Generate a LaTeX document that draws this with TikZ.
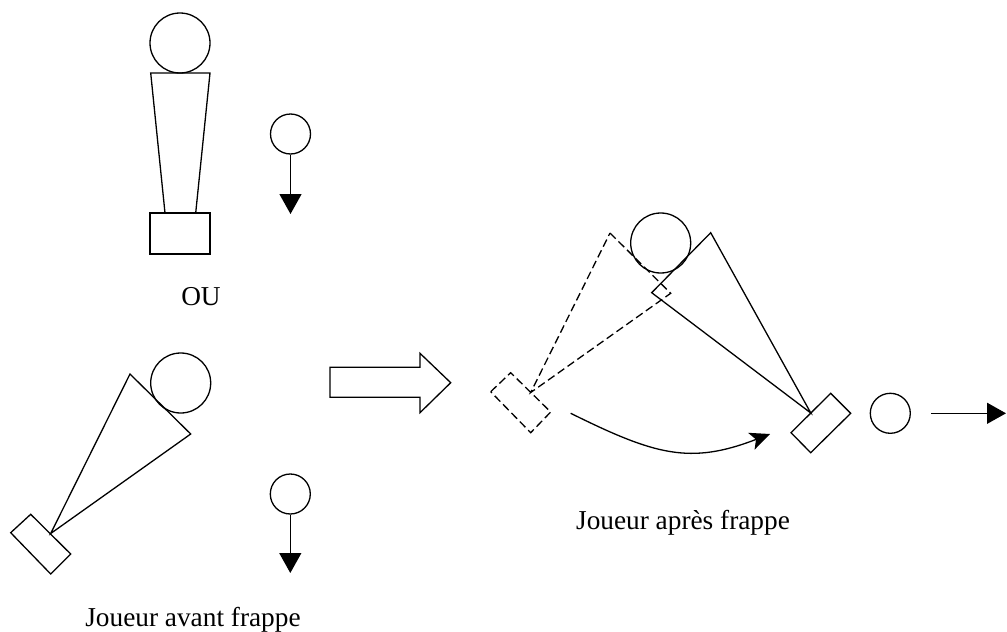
\documentclass[tikz,border=0pt]{standalone}
\usepackage{fontspec}
\setmainfont{Liberation Serif}
\usetikzlibrary{arrows.meta}
\begin{document}
\begin{tikzpicture}[x=1pt,y=-1pt,line width=1.3pt,line join=miter,
  head/.style={circle,draw,inner sep=0pt,minimum size=60pt},
  ball/.style={circle,draw,inner sep=0pt,minimum size=40pt},
  ghost/.style={dash pattern=on 8pt off 4pt},
  fall/.style={-{Triangle[length=20pt,width=22pt]}},
  txt/.style={font=\fontsize{27.3}{32}\selectfont,anchor=base,inner sep=0pt}]
\useasboundingbox (0,0) rectangle (1007,632);

% --- standing player, seen from above
\node[head] (h1) at (180,43) {};
\draw (150.7,73) -- (210,73) -- (195.7,213) -- (165,213) -- cycle;
\draw (150,213) rectangle (210,254);
\node[ball] (b1) at (290.5,134) {};
\coordinate (b1end) at (290.5,214);
\draw[fall] (b1.south) -- (b1end);

\node[txt] (ou) at (201,305.7) {OU};

% --- leaning player
\node[head] (h2) at (180.7,383) {};
\draw (130,374) -- (190.7,434) -- (50.7,533.5) -- cycle;
\draw (10.7,532.7) -- (30.7,514.3) -- (70.7,554) -- (50.7,574) -- cycle;
\node[ball] (b2) at (290.3,494) {};
\coordinate (b2end) at (290.3,573);
\draw[fall] (b2.south) -- (b2end);

\node[txt] (avant) at (193,626.7) {Joueur avant frappe};

% --- big transition arrow
\draw (330,367.3) -- (420,367.3) -- (420,353.3) -- (450.7,382.7)
      -- (420,412.7) -- (420,397.3) -- (330,397.3) -- cycle;

% --- player after the stroke: former position dashed
\node[head] (h3) at (660.7,243) {};
\draw[ghost] (610,233) -- (670.7,293.3) -- (530.7,392.5) -- cycle;
\draw[ghost] (490.7,391.7) -- (510.7,372.7) -- (550.7,412) -- (530.7,432.7) -- cycle;

% new position
\draw (710.7,232.7) -- (651.7,292.7) -- (810.8,413) -- cycle;
\draw (791,432.7) -- (830.7,393.3) -- (850.7,413.3) -- (810.7,452.7) -- cycle;

% swing path
\coordinate (swA) at (570.7,413.3);
\coordinate (swB) at (770,434);
\draw[-{Stealth[length=20pt,width=18pt,inset=5pt]}]
  (swA) .. controls (655,455) and (690,465) .. (swB);

\node[ball] (b3) at (890.3,413.3) {};
\coordinate (b3start) at (931,413.3);
\coordinate (b3end) at (1006,413.3);
\draw[-{Triangle[length=19pt,width=21pt]}] (b3start) -- (b3end);

\node[txt] (apres) at (683,529.3) {Joueur après frappe};
\end{tikzpicture}
\end{document}
